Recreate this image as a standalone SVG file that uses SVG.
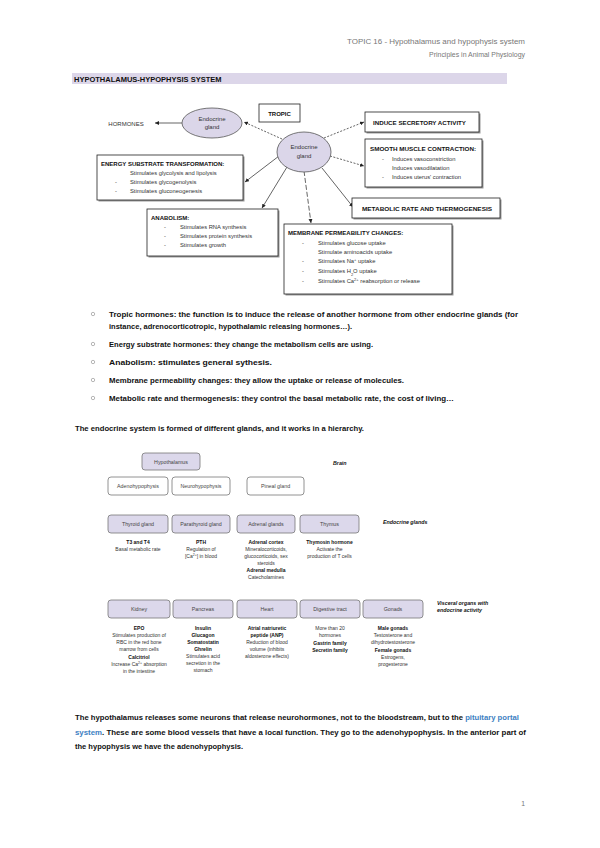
<svg xmlns="http://www.w3.org/2000/svg" width="600" height="848" viewBox="0 0 600 848">
<style>
text{font-family:"Liberation Sans",Arial,sans-serif;fill:#222}
.hdr{font-size:6.8px;fill:#777;text-anchor:end}
.ttl{font-size:7.5px;font-weight:bold;fill:#111}
.bt{font-size:6px;font-weight:bold;fill:#111}
.li{font-size:5.8px;fill:#333}
.ell{fill:#dbd6e9;stroke:#555;stroke-width:0.8}
.box{fill:#fff;stroke:#222;stroke-width:0.8}
.shd{fill:#999}
.et{font-size:6px;fill:#333;text-anchor:middle}
.bul{font-size:7px;font-weight:bold;fill:#111}
.bc{fill:none;stroke:#888;stroke-width:0.6}
.con{fill:none;stroke:#222;stroke-width:0.7}
.dash{stroke-dasharray:2,1.5}
.ldash{stroke-dasharray:5,2}
.hb{fill:#dcd8eb;stroke:#777;stroke-width:0.8}
.hw{fill:#fff;stroke:#777;stroke-width:0.8}
.ht{font-size:5.3px;fill:#444;text-anchor:middle}
.hs{font-size:5px;fill:#333;text-anchor:middle}
.hsb{font-size:5px;fill:#111;text-anchor:middle;font-weight:bold}
.lab{font-size:5.3px;font-weight:bold;font-style:italic;fill:#111}
.para{font-size:7px;font-weight:bold;fill:#111}
.blue{fill:#3d7fc2}
</style>
<defs>
<marker id="ah" viewBox="0 0 6 6" refX="6" refY="3" markerWidth="4" markerHeight="4" orient="auto" markerUnits="userSpaceOnUse">
<path d="M0,0 L6,3 L0,6 Z" fill="#222"/>
</marker>
</defs>

<text class="hdr" x="525" y="44" textLength="178" lengthAdjust="spacingAndGlyphs">TOPIC 16 - Hypothalamus and hypophysis system</text>
<text class="hdr" x="525" y="57" textLength="96" lengthAdjust="spacingAndGlyphs">Principles in Animal Physiology</text>

<rect x="72" y="73" width="435" height="11" fill="#dcd6e9"/>
<text class="ttl" x="74" y="81.5">HYPOTHALAMUS-HYPOPHYSIS SYSTEM</text>

<!-- top diagram connectors -->
<g id="connectors-top">
<line class="con" x1="182" y1="123" x2="155" y2="123" marker-end="url(#ah)"/>
<line class="con dash" x1="282" y1="139" x2="244" y2="122" marker-end="url(#ah)"/>
<line class="con dash" x1="324" y1="138" x2="364" y2="122" marker-end="url(#ah)"/>
<line class="con dash" x1="330" y1="156" x2="364" y2="166" marker-end="url(#ah)"/>
<line class="con" x1="322" y1="168" x2="353" y2="207" marker-end="url(#ah)"/>
<line class="con ldash" x1="304" y1="171" x2="311" y2="223" marker-end="url(#ah)"/>
<line class="con" x1="287" y1="167" x2="262" y2="208" marker-end="url(#ah)"/>
<line class="con" x1="279" y1="156" x2="245" y2="182" marker-end="url(#ah)"/>
</g>

<g id="hormones"><text class="et" x="126" y="125.5">HORMONES</text></g>

<g id="gland-left">
<ellipse class="ell" cx="212" cy="123" rx="30" ry="15"/>
<text class="et" x="212" y="121">Endocrine</text>
<text class="et" x="212" y="129">gland</text>
</g>

<g id="tropic">
<rect class="box" x="259" y="104" width="41" height="18"/>
<text class="bt" x="279.5" y="115.5" text-anchor="middle">TROPIC</text>
</g>

<g id="gland-right">
<ellipse class="ell" cx="304" cy="152" rx="27" ry="20"/>
<text class="et" x="304" y="149">Endocrine</text>
<text class="et" x="304" y="158">gland</text>
</g>

<g id="induce">
<rect class="shd" x="366.5" y="113.5" width="114" height="20"/>
<rect class="box" x="365" y="112" width="114" height="20"/>
<text class="bt" x="373" y="124.5" textLength="93" lengthAdjust="spacingAndGlyphs">INDUCE SECRETORY ACTIVITY</text>
</g>

<g id="smooth">
<rect class="shd" x="366.5" y="140.5" width="117" height="48"/>
<rect class="box" x="365" y="139" width="117" height="48"/>
<text class="bt" x="370" y="151" textLength="106" lengthAdjust="spacingAndGlyphs">SMOOTH MUSCLE CONTRACTION:</text>
<text class="li" x="382" y="161">-</text><text class="li" x="392" y="161">Induces vasoconstriction</text>
<text class="li" x="392" y="170">Induces vasodilatation</text>
<text class="li" x="382" y="179">-</text><text class="li" x="392" y="179">Induces uterus' contraction</text>
</g>

<g id="metabolic">
<rect class="shd" x="353.5" y="199.5" width="148" height="20"/>
<rect class="box" x="352" y="198" width="148" height="20"/>
<text class="bt" x="362" y="210.5" textLength="130" lengthAdjust="spacingAndGlyphs">METABOLIC RATE AND THERMOGENESIS</text>
</g>

<g id="energy">
<rect class="shd" x="98.5" y="156.5" width="146" height="45"/>
<rect class="box" x="97" y="155" width="146" height="45"/>
<text class="bt" x="101" y="165.5">ENERGY SUBSTRATE TRANSFORMATION:</text>
<text class="li" x="130" y="174.5">Stimulates glycolysis and lipolysis</text>
<text class="li" x="115" y="183.5">-</text><text class="li" x="130" y="183.5">Stimulates glycogenolysis</text>
<text class="li" x="115" y="192.5">-</text><text class="li" x="130" y="192.5">Stimulates gluconeogenesis</text>
</g>

<g id="anabolism">
<rect class="shd" x="148.5" y="210.5" width="131" height="47"/>
<rect class="box" x="147" y="209" width="131" height="47"/>
<text class="bt" x="151" y="219.5">ANABOLISM:</text>
<text class="li" x="164" y="228.5">-</text><text class="li" x="180" y="228.5">Stimulates RNA synthesis</text>
<text class="li" x="164" y="237.5">-</text><text class="li" x="180" y="237.5">Stimulates protein synthesis</text>
<text class="li" x="164" y="246.5">-</text><text class="li" x="180" y="246.5">Stimulates growth</text>
</g>

<g id="membrane">
<rect class="shd" x="285.5" y="225.5" width="168" height="70"/>
<rect class="box" x="284" y="224" width="168" height="70"/>
<text class="bt" x="288" y="235">MEMBRANE PERMEABILITY CHANGES:</text>
<text class="li" x="302" y="245">-</text><text class="li" x="318" y="245">Stimulates glucose uptake</text>
<text class="li" x="318" y="254">Stimulate aminoacids uptake</text>
<text class="li" x="302" y="263">-</text><text class="li" x="318" y="263">Stimulates Na<tspan baseline-shift="super" font-size="4">+</tspan> uptake</text>
<text class="li" x="302" y="272.5">-</text><text class="li" x="318" y="272.5">Stimulates H<tspan baseline-shift="sub" font-size="4">2</tspan>O uptake</text>
<text class="li" x="302" y="282.5">-</text><text class="li" x="318" y="282.5">Stimulates Ca<tspan baseline-shift="super" font-size="4">2+</tspan> reabsorption or release</text>
</g>

<!-- bullets -->
<g id="bullets">
<circle class="bc" cx="93" cy="314" r="1.7"/>
<text class="bul" x="109" y="316.5" textLength="409" lengthAdjust="spacingAndGlyphs">Tropic hormones: the function is to induce the release of another hormone from other endocrine glands (for</text>
<text class="bul" x="109" y="329" textLength="243" lengthAdjust="spacingAndGlyphs">instance, adrenocorticotropic, hypothalamic releasing hormones…).</text>
<circle class="bc" cx="93" cy="344" r="1.7"/>
<text class="bul" x="109" y="346.5" textLength="264" lengthAdjust="spacingAndGlyphs">Energy substrate hormones: they change the metabolism cells are using.</text>
<circle class="bc" cx="93" cy="362" r="1.7"/>
<text class="bul" x="109" y="364.5" textLength="163" lengthAdjust="spacingAndGlyphs">Anabolism: stimulates general sythesis.</text>
<circle class="bc" cx="93" cy="380" r="1.7"/>
<text class="bul" x="109" y="382.5" textLength="295" lengthAdjust="spacingAndGlyphs">Membrane permeability changes: they allow the uptake or release of molecules.</text>
<circle class="bc" cx="93" cy="398" r="1.7"/>
<text class="bul" x="109" y="400.5" textLength="345" lengthAdjust="spacingAndGlyphs">Metabolic rate and thermogenesis: they control the basal metabolic rate, the cost of living…</text>
<text class="bul" x="75" y="431" textLength="289" lengthAdjust="spacingAndGlyphs">The endocrine system is formed of different glands, and it works in a hierarchy.</text>
</g>

<!-- hierarchy -->
<g id="hypothalamus"><rect class="hb" x="142" y="453" width="58" height="17" rx="3"/><text class="ht" x="171" y="463.5">Hypothalamus</text></g>
<g id="adenohypophysis"><rect class="hw" x="108" y="477" width="60" height="18" rx="3"/><text class="ht" x="138" y="488">Adenohypophysis</text></g>
<g id="neurohypophysis"><rect class="hw" x="172" y="477" width="58" height="18" rx="3"/><text class="ht" x="201" y="488">Neurohypophysis</text></g>
<g id="pineal"><rect class="hw" x="247" y="477" width="57" height="18" rx="3"/><text class="ht" x="275.5" y="488">Pineal gland</text></g>
<text class="lab" x="333" y="465">Brain</text>

<g id="thyroid"><rect class="hb" x="108" y="515" width="60" height="18" rx="3"/><text class="ht" x="138" y="526">Thyroid gland</text>
<text class="hsb" x="138" y="544">T3 and T4</text><text class="hs" x="138" y="551">Basal metabolic rate</text></g>
<g id="parathyroid"><rect class="hb" x="172" y="515" width="58" height="18" rx="3"/><text class="ht" x="201" y="526">Parathyroid gland</text>
<text class="hsb" x="201" y="544">PTH</text><text class="hs" x="201" y="551">Regulation of</text><text class="hs" x="201" y="558">[Ca<tspan baseline-shift="super" font-size="3.5">2+</tspan>] in blood</text></g>
<g id="adrenal"><rect class="hb" x="237" y="515" width="58" height="18" rx="3"/><text class="ht" x="266" y="526">Adrenal glands</text>
<text class="hsb" x="266" y="544">Adrenal cortex</text><text class="hs" x="266" y="551">Mineralocorticoids,</text><text class="hs" x="266" y="558">glucocorticoids, sex</text><text class="hs" x="266" y="564.5">steroids</text>
<text class="hsb" x="266" y="572">Adrenal medulla</text><text class="hs" x="266" y="579">Catecholamines</text></g>
<g id="thymus"><rect class="hb" x="300" y="515" width="59" height="18" rx="3"/><text class="ht" x="329.5" y="526">Thymus</text>
<text class="hsb" x="329.5" y="544">Thymosin hormone</text><text class="hs" x="329.5" y="551">Activate the</text><text class="hs" x="329.5" y="558">production of T cells</text></g>
<text class="lab" x="383" y="524">Endocrine glands</text>

<g id="kidney"><rect class="hb" x="108" y="600" width="62" height="18" rx="3"/><text class="ht" x="139" y="611">Kidney</text>
<text class="hsb" x="139" y="630">EPO</text><text class="hs" x="139" y="637">Stimulates production of</text><text class="hs" x="139" y="644">RBC in the red bone</text><text class="hs" x="139" y="651">marrow from cells</text>
<text class="hsb" x="139" y="659">Calcitriol</text><text class="hs" x="139" y="666">Increase Ca<tspan baseline-shift="super" font-size="3.5">2+</tspan> absorption</text><text class="hs" x="139" y="673">in the intestine</text></g>
<g id="pancreas"><rect class="hb" x="173" y="600" width="60" height="18" rx="3"/><text class="ht" x="203" y="611">Pancreas</text>
<text class="hsb" x="203" y="630">Insulin</text><text class="hsb" x="203" y="637">Glucagon</text><text class="hsb" x="203" y="644">Somatostatin</text><text class="hsb" x="203" y="651">Ghrelin</text>
<text class="hs" x="203" y="658">Stimulates acid</text><text class="hs" x="203" y="665">secretion in the</text><text class="hs" x="203" y="672">stomach</text></g>
<g id="heart"><rect class="hb" x="237" y="600" width="60" height="18" rx="3"/><text class="ht" x="267" y="611">Heart</text>
<text class="hsb" x="267" y="630">Atrial natriuretic</text><text class="hsb" x="267" y="637">peptide (ANP)</text><text class="hs" x="267" y="644">Reduction of blood</text><text class="hs" x="267" y="651">volume (inhibits</text><text class="hs" x="267" y="658">aldosterone effects)</text></g>
<g id="digestive"><rect class="hb" x="300" y="600" width="60" height="18" rx="3"/><text class="ht" x="330" y="611">Digestive tract</text>
<text class="hs" x="330" y="630">More than 20</text><text class="hs" x="330" y="637">hormones</text><text class="hsb" x="330" y="645">Gastrin family</text><text class="hsb" x="330" y="652">Secretin family</text></g>
<g id="gonads"><rect class="hb" x="363" y="600" width="60" height="18" rx="3"/><text class="ht" x="393" y="611">Gonads</text>
<text class="hsb" x="393" y="630">Male gonads</text><text class="hs" x="393" y="637">Testosterone and</text><text class="hs" x="393" y="644">dihydrotestosterone</text>
<text class="hsb" x="393" y="652">Female gonads</text><text class="hs" x="393" y="659">Estrogens,</text><text class="hs" x="393" y="666">progesterone</text></g>
<text class="lab" x="437" y="605">Visceral organs with</text>
<text class="lab" x="437" y="612">endocrine activity</text>

<!-- paragraph -->
<text class="para" x="75" y="720" textLength="444" lengthAdjust="spacingAndGlyphs">The hypothalamus releases some neurons that release neurohormones, not to the bloodstream, but to the <tspan class="blue">pituitary portal</tspan></text>
<text class="para" x="75" y="734.5" textLength="451" lengthAdjust="spacingAndGlyphs"><tspan class="blue">system</tspan>. These are some blood vessels that have a local function. They go to the adenohypophysis. In the anterior part of</text>
<text class="para" x="75" y="749" textLength="168" lengthAdjust="spacingAndGlyphs">the hypophysis we have the adenohypophysis.</text>

<text class="hdr" x="525" y="806">1</text>
</svg>
